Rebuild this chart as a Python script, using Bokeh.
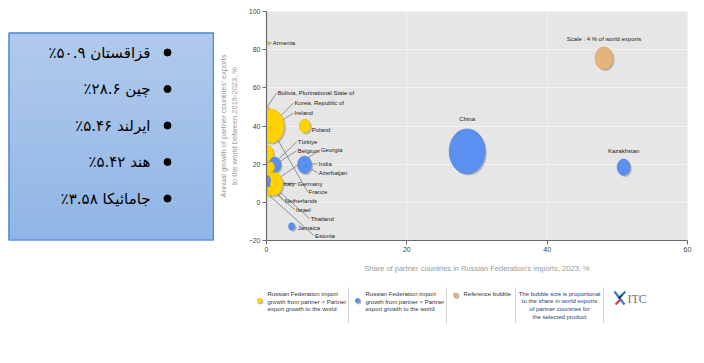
import math
from bokeh.plotting import figure
from bokeh.layouts import row, column
from bokeh.models import Range1d, FixedTicker, ColumnDataSource
from bokeh.embed import file_html
from bokeh.resources import INLINE
from bokeh.core.properties import value

# ---------------- data ----------------
countries = ["Korea, Republic of", "China", "Germany", "Netherlands", "Italy", "India",
             "Kazakhstan", "Belgium", "Poland", "Türkiye", "Thailand", "Jamaica",
             "Israel", "Estonia", "Ireland", "France", "Georgia", "Azerbaijan",
             "Armenia", "Bolivia, Plurinational State of"]
import_share = [0.6, 28.6, 0.95, 0.24, 0.0, 5.42, 50.9, 1.2, 5.46, 0.57, 0.0, 3.58,
                0.5, 0.3, 0.5, 0.7, 0.3, 5.6, 0.1, 0.1]
export_growth = [40.0, 26.7, 9.8, 10.6, 25.6, 19.7, 18.4, 19.7, 40.0, 18.5, 11.5, -12.6,
                 7.0, 4.0, 39.0, 38.5, 9.0, 19.0, 83.8, 50.0]
world_share = [9.0, 16.0, 4.5, 3.2, 2.4, 2.4, 2.1, 1.8, 1.5, 0.8, 0.8, 0.44,
               0.3, 0.1, 0.05, 0.05, 0.05, 0.05, 0.03, 0.03]
# True: Russian Federation import growth from partner > partner export growth to the world
import_faster = [False, True, False, False, False, True, True, True, False, False, True, True,
                 False, False, False, False, True, True, False, False]

reference_share = 4
reference_point = (48.1, 75.5)
reference_text = "Scale : 4 % of world exports"

x_ticks = [0, 20, 40, 60]
y_ticks = [-20, 0, 20, 40, 60, 80, 100]
x_title = "Share of partner countries in Russian Federation's imports, 2023, %"
y_title = "Annual growth of partner countries' exports\nto the world between 2019-2023, %"

box_lines = ["قزاقستان ۵۰.۹٪", "چین ۲۸.۶٪", "ایرلند ۵.۴۶٪", "هند ۵.۴۲٪", "جامائیکا ۳.۵۸٪"]

legend_texts = [
    ["Russian Federation import", "growth from partner < Partner", "export growth to the world"],
    ["Russian Federation import", "growth from partner > Partner", "export growth to the world"],
    ["Reference bubble"],
]
note_text = ["The bubble size is proportional", "to the share in world exports",
             "of partner countries for", "the selected product"]

# ---------------- layout / style (not data) ----------------
YELLOW, YELLOW_EDGE = "#ffd200", "#e9bd00"
BLUE, BLUE_EDGE = "#5b8ff0", "#4a7ad8"
TAN, TAN_EDGE = "#e3b57c", "#cf9f66"
PX_X = 421.0 / 60
PX_Y = 229.0 / 120
K = 4.5                # bubble radius (px) per sqrt(share)
ASPECT = 1.25
LABEL_FONT = value("Liberation Sans")
LABEL_SIZE = "6px"
RLM = "\u200f"

label_layout = {
    "Armenia": (0.9, 83.4, True),
    "Bolivia, Plurinational State of": (1.6, 57.3, True),
    "Korea, Republic of": (4.0, 52.1, True),
    "Ireland": (4.0, 46.8, True),
    "Poland": (6.45, 38.0, False),
    "Türkiye": (4.45, 31.7, True),
    "Belgium": (4.45, 27.0, True),
    "Georgia": (7.75, 27.5, True),
    "India": (7.45, 20.2, True),
    "Azerbaijan": (7.45, 15.5, True),
    "Italy": (2.45, 9.8, True),
    "Germany": (4.45, 9.8, True),
    "France": (6.0, 5.6, True),
    "Netherlands": (2.6, 0.9, True),
    "Israel": (4.2, -3.8, True),
    "Thailand": (6.3, -8.5, True),
    "Jamaica": (4.45, -13.2, True),
    "Estonia": (6.9, -17.4, True),
}
center_labels = {"China": 17.0, "Kazakhstan": 8.6}

LEFT_W = 214
MAIN_W = 481
MAIN_H = 276
B_TOP, B_BOT = 11, 36           # frame spans page y 11 .. 240

# ---------------- main chart ----------------
p = figure(width=MAIN_W, height=MAIN_H, x_range=Range1d(0, 60), y_range=Range1d(-20, 100),
           output_backend="svg", toolbar_location=None,
           min_border_left=52, min_border_right=8, min_border_top=B_TOP, min_border_bottom=B_BOT,
           background_fill_color="#e6e6e6", border_fill_color="white", outline_line_color=None)

p.xaxis.ticker = FixedTicker(ticks=x_ticks)
p.yaxis.ticker = FixedTicker(ticks=y_ticks)
for ax in (p.xaxis[0], p.yaxis[0]):
    ax.axis_line_color = "#6a6a6a"
    ax.axis_line_width = 1.2
    ax.major_tick_line_color = "#6a6a6a"
    ax.major_tick_in = 0
    ax.major_tick_out = 4
    ax.minor_tick_line_color = None
    ax.major_label_text_font = "Liberation Sans"
    ax.major_label_text_font_size = "7px"
    ax.major_label_text_color = "#444444"
    ax.major_label_standoff = 2
    ax.axis_label_text_font = "Liberation Sans"
    ax.axis_label_text_font_size = "7.5px"
    ax.axis_label_text_font_style = "normal"
    ax.axis_label_text_color = "#9a9a9a"
p.xaxis.axis_label = x_title
p.yaxis.axis_label = y_title
p.xaxis.axis_label_standoff = 9
p.yaxis.axis_label_standoff = 7
p.grid.grid_line_color = "#f3f3f3"
p.grid.grid_line_width = 1

colors = [BLUE if f else YELLOW for f in import_faster]
edges = [BLUE_EDGE if f else YELLOW_EDGE for f in import_faster]
widths = [max(2 * K * math.sqrt(s), 2.5) for s in world_share]
heights = [w * ASPECT for w in widths]
order = sorted(range(len(countries)), key=lambda i: -world_share[i])

def pick(seq):
    return [seq[i] for i in order]

sx = 1.6 / PX_X
sy = 1.6 / PX_Y
shadow = ColumnDataSource(dict(x=[import_share[i] + sx for i in order],
                               y=[export_growth[i] - sy for i in order],
                               w=pick(widths), h=pick(heights)))
bub = ColumnDataSource(dict(x=pick(import_share), y=pick(export_growth), w=pick(widths),
                            h=pick(heights), c=pick(colors), e=pick(edges)))

lx0, ly0, lx1, ly1 = [], [], [], []
for name, (tx, ty, line) in label_layout.items():
    if line:
        i = countries.index(name)
        lx0.append(tx - 0.15); ly0.append(ty)
        lx1.append(import_share[i]); ly1.append(export_growth[i])
p.segment(x0=lx0, y0=ly0, x1=lx1, y1=ly1, line_color="#7a7a7a", line_width=0.8)

rw = 2 * K * math.sqrt(reference_share)
p.ellipse(x=[reference_point[0] + sx], y=[reference_point[1] - sy], width=[rw], height=[rw * ASPECT],
          width_units="screen", height_units="screen", fill_color="#8c8c8c", fill_alpha=0.55,
          line_color=None)
p.ellipse(x=[reference_point[0]], y=[reference_point[1]], width=[rw], height=[rw * ASPECT],
          width_units="screen", height_units="screen", fill_color=TAN, line_color=TAN_EDGE,
          line_width=0.6)
p.text(x=[reference_point[0]], y=[reference_point[1] + 10], text=[reference_text],
       text_align="center", text_baseline="middle", text_font=LABEL_FONT,
       text_font_size=LABEL_SIZE, text_color="#222222")

p.ellipse(x="x", y="y", width="w", height="h", width_units="screen", height_units="screen",
          source=shadow, fill_color="#8c8c8c", fill_alpha=0.55, line_color=None)
p.ellipse(x="x", y="y", width="w", height="h", width_units="screen", height_units="screen",
          source=bub, fill_color="c", line_color="e", line_width=0.6)

p.text(x=[v[0] for v in label_layout.values()], y=[v[1] for v in label_layout.values()],
       text=list(label_layout.keys()), text_align="left", text_baseline="middle",
       text_font=LABEL_FONT, text_font_size=LABEL_SIZE, text_color="#222222")
cl = list(center_labels.keys())
p.text(x=[import_share[countries.index(n)] for n in cl],
       y=[export_growth[countries.index(n)] + center_labels[n] for n in cl],
       text=cl, text_align="center", text_baseline="middle",
       text_font=LABEL_FONT, text_font_size=LABEL_SIZE, text_color="#222222")

# ---------------- legend strip (coordinates = page px) ----------------
LG_W = LEFT_W + MAIN_W
LG_H = 60
lg = figure(width=LG_W, height=LG_H, x_range=Range1d(0, LG_W),
            y_range=Range1d(MAIN_H + LG_H, MAIN_H),
            output_backend="svg", toolbar_location=None, x_axis_location=None,
            y_axis_location=None, min_border=0,
            outline_line_color=None, background_fill_color="white", border_fill_color="white")
lg.grid.visible = False

dot_x = [259, 357, 455]
dot_y = [300, 300, 294.5]
dot_c = [YELLOW, BLUE, TAN]
lg.scatter(x=[x + 1 for x in dot_x], y=[y + 1 for y in dot_y], size=5, color="#9a9a9a", alpha=0.6)
lg.scatter(x=dot_x, y=dot_y, size=5, fill_color=dot_c, line_color=None)
text_x = [267, 365, 463]
for j, lines in enumerate(legend_texts):
    lg.text(x=[text_x[j]] * len(lines), y=[293.5 + 7.5 * k for k in range(len(lines))],
            text=lines, text_align="left", text_baseline="middle", text_font=LABEL_FONT,
            text_font_size=LABEL_SIZE, text_color="#333333")
lg.text(x=[559] * len(note_text), y=[293.3 + 7.6 * k for k in range(len(note_text))],
        text=note_text, text_align="center", text_baseline="middle", text_font=LABEL_FONT,
        text_font_size=LABEL_SIZE, text_color="#23407a")
seps = [348, 446, 515, 603]
lg.segment(x0=seps, y0=[287] * 4, x1=seps, y1=[323] * 4, line_color="#d4d4d4", line_width=1)
lg.segment(x0=[614, 615, 618, 621], y0=[291, 304, 298, 295], x1=[624, 620, 623, 625],
           y1=[304, 299, 293, 291], line_color=["#2f7fd0", "#e0334a", "#333333", "#2f7fd0"],
           line_width=2.2)
lg.text(x=[627], y=[298], text=["ITC"], text_align="left", text_baseline="middle",
        text_font=value("Liberation Serif"), text_font_size="12px", text_color="#707070")

# ---------------- text box (frame aligned with main frame: page y 11..240) ----------------
bx = figure(width=LEFT_W, height=MAIN_H, x_range=Range1d(0, LEFT_W),
            y_range=Range1d(MAIN_H - B_BOT, B_TOP),
            output_backend="svg", toolbar_location=None, x_axis_location=None,
            y_axis_location=None, min_border=0, min_border_top=B_TOP, min_border_bottom=B_BOT,
            outline_line_color=None, background_fill_color="white", border_fill_color="white")
bx.grid.visible = False
top_rgb, bot_rgb = (176, 202, 236), (145, 181, 230)
n = 40
box_l, box_r, box_top, box_bot = 8.5, 213, 32.5, 239.8
qs = dict(top=[], bottom=[], color=[])
for i in range(n):
    t = i / (n - 1)
    c = tuple(round(a + (b - a) * t) for a, b in zip(top_rgb, bot_rgb))
    qs["top"].append(box_top + (box_bot - box_top) * i / n)
    qs["bottom"].append(box_top + (box_bot - box_top) * (i + 1) / n + 0.5)
    qs["color"].append("#%02x%02x%02x" % c)
bx.quad(left=box_l, right=box_r, top="top", bottom="bottom", color="color",
        source=ColumnDataSource(qs))
bx.quad(left=[box_l], right=[box_r], top=[box_top], bottom=[box_bot], fill_color=None,
        line_color="#4f8ad6", line_width=1.5)
ys = [52 + 36.5 * i for i in range(len(box_lines))]
bx.text(x=[150] * len(box_lines), y=ys, text=[RLM + s + RLM for s in box_lines],
        text_align="right", text_baseline="middle", text_font=value("DejaVu Sans"),
        text_font_size="15px", text_color="black")
bx.scatter(x=[167] * len(box_lines), y=ys, size=7, color="black")

layout = column(row(bx, p, spacing=0), lg, spacing=0)
open("out.html", "w").write(file_html(layout, INLINE))
